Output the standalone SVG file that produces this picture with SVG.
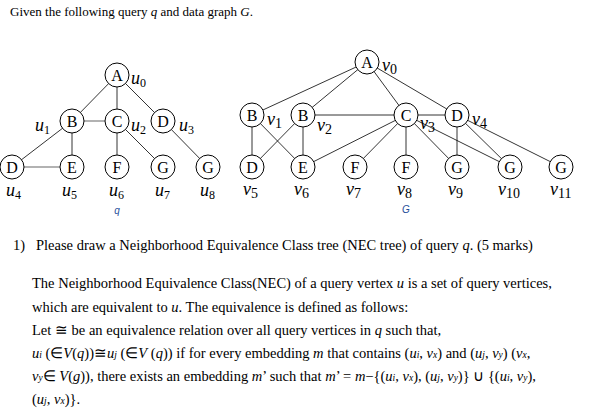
<svg xmlns="http://www.w3.org/2000/svg" width="601" height="420" viewBox="0 0 601 420">
<style>
text{font-family:"Liberation Serif","Times New Roman",serif;fill:#000}
.n circle{fill:#fff;stroke:#000;stroke-width:1}
.n text{font-size:16px;text-anchor:middle}
.l{font-size:18px;font-style:italic}
.e line{stroke:#000;stroke-width:0.8}
.g{stroke:#999!important;stroke-width:1.5!important}
.t{font-size:14.5px}
.i{font-style:italic}
.s{font-size:9.5px;font-style:italic}
.cap{font-family:"Liberation Sans",Arial,sans-serif;font-size:10px;font-style:italic;fill:#1f4e9a;text-anchor:middle}
</style>
<text x="10" y="16" font-size="13">Given the following query <tspan class="i">q</tspan> and data graph <tspan class="i">G</tspan>.</text>
<g class="e" id="edges-q">
<line x1="117" y1="75" x2="72" y2="121"/><line x1="117" y1="75" x2="117" y2="121"/><line x1="117" y1="75" x2="163" y2="121"/>
<line x1="72" y1="121" x2="117" y2="121" class="g"/>
<line x1="72" y1="121" x2="12" y2="167"/><line x1="72" y1="121" x2="72" y2="167"/>
<line x1="12" y1="167" x2="72" y2="167" class="g"/>
<line x1="117" y1="121" x2="117" y2="167"/><line x1="117" y1="121" x2="163" y2="167"/>
<line x1="163" y1="121" x2="208" y2="167"/>
</g>
<g class="n" id="u0"><circle cx="117" cy="75" r="12"/><text x="117" y="81">A</text></g>
<g class="n" id="u1"><circle cx="72" cy="121" r="12"/><text x="72" y="127">B</text></g>
<g class="n" id="u2"><circle cx="117" cy="121" r="12"/><text x="117" y="127">C</text></g>
<g class="n" id="u3"><circle cx="163" cy="121" r="12"/><text x="163" y="127">D</text></g>
<g class="n" id="u4"><circle cx="12" cy="167" r="12"/><text x="12" y="173">D</text></g>
<g class="n" id="u5"><circle cx="72" cy="167" r="12"/><text x="72" y="173">E</text></g>
<g class="n" id="u6"><circle cx="117" cy="167" r="12"/><text x="117" y="173">F</text></g>
<g class="n" id="u7"><circle cx="163" cy="167" r="12"/><text x="163" y="173">G</text></g>
<g class="n" id="u8"><circle cx="208" cy="167" r="12"/><text x="208" y="173">G</text></g>
<g id="qlabels" class="l">
<text x="131" y="84">u<tspan font-size="12" font-style="normal" dy="3">0</tspan></text>
<text x="35" y="131">u<tspan font-size="12" font-style="normal" dy="3">1</tspan></text>
<text x="131" y="131">u<tspan font-size="12" font-style="normal" dy="3">2</tspan></text>
<text x="179" y="131">u<tspan font-size="12" font-style="normal" dy="3">3</tspan></text>
<text x="6" y="196">u<tspan font-size="12" font-style="normal" dy="3">4</tspan></text>
<text x="62" y="196">u<tspan font-size="12" font-style="normal" dy="3">5</tspan></text>
<text x="109" y="196">u<tspan font-size="12" font-style="normal" dy="3">6</tspan></text>
<text x="155" y="196">u<tspan font-size="12" font-style="normal" dy="3">7</tspan></text>
<text x="200" y="196">u<tspan font-size="12" font-style="normal" dy="3">8</tspan></text>
</g>
<text x="117" y="214" class="cap">q</text>
<g class="e" id="edges-g">
<line x1="367" y1="62" x2="252" y2="115"/><line x1="367" y1="62" x2="303" y2="115"/><line x1="367" y1="62" x2="406" y2="115"/><line x1="367" y1="62" x2="457" y2="115"/>
<line x1="303" y1="115" x2="406" y2="115"/><line x1="406" y1="115" x2="457" y2="115"/>
<line x1="252" y1="115" x2="252" y2="167"/><line x1="252" y1="115" x2="303" y2="167"/>
<line x1="303" y1="115" x2="252" y2="167"/><line x1="303" y1="115" x2="303" y2="167"/>
<line x1="406" y1="115" x2="303" y2="167"/><line x1="406" y1="115" x2="355" y2="167"/><line x1="406" y1="115" x2="406" y2="167"/><line x1="406" y1="115" x2="457" y2="167"/><line x1="406" y1="115" x2="510" y2="167"/>
<line x1="457" y1="115" x2="457" y2="167"/><line x1="457" y1="115" x2="510" y2="167"/><line x1="457" y1="115" x2="561" y2="167"/>
</g>
<g class="n" id="v0"><circle cx="367" cy="62" r="12"/><text x="367" y="68">A</text></g>
<g class="n" id="v1"><circle cx="252" cy="115" r="12"/><text x="252" y="121">B</text></g>
<g class="n" id="v2"><circle cx="303" cy="115" r="12"/><text x="303" y="121">B</text></g>
<g class="n" id="v3"><circle cx="406" cy="115" r="12"/><text x="406" y="121">C</text></g>
<g class="n" id="v4"><circle cx="457" cy="115" r="12"/><text x="457" y="121">D</text></g>
<g class="n" id="v5"><circle cx="252" cy="167" r="12"/><text x="252" y="173">D</text></g>
<g class="n" id="v6"><circle cx="303" cy="167" r="12"/><text x="303" y="173">E</text></g>
<g class="n" id="v7"><circle cx="355" cy="167" r="12"/><text x="355" y="173">F</text></g>
<g class="n" id="v8"><circle cx="406" cy="167" r="12"/><text x="406" y="173">F</text></g>
<g class="n" id="v9"><circle cx="457" cy="167" r="12"/><text x="457" y="173">G</text></g>
<g class="n" id="v10"><circle cx="510" cy="167" r="12"/><text x="510" y="173">G</text></g>
<g class="n" id="v11"><circle cx="561" cy="167" r="12"/><text x="561" y="173">G</text></g>
<g id="glabels" class="l">
<text x="382" y="71">v<tspan font-size="14" font-style="normal" dy="3">0</tspan></text>
<text x="267" y="125">v<tspan font-size="14" font-style="normal" dy="3">1</tspan></text>
<text x="317" y="131">v<tspan font-size="14" font-style="normal" dy="3">2</tspan></text>
<text x="420" y="129">v<tspan font-size="14" font-style="normal" dy="3">3</tspan></text>
<text x="472" y="125">v<tspan font-size="14" font-style="normal" dy="3">4</tspan></text>
<text x="243" y="195">v<tspan font-size="14" font-style="normal" dy="3">5</tspan></text>
<text x="294" y="195">v<tspan font-size="14" font-style="normal" dy="3">6</tspan></text>
<text x="346" y="195">v<tspan font-size="14" font-style="normal" dy="3">7</tspan></text>
<text x="397" y="195">v<tspan font-size="14" font-style="normal" dy="3">8</tspan></text>
<text x="448" y="195">v<tspan font-size="14" font-style="normal" dy="3">9</tspan></text>
<text x="498" y="195">v<tspan font-size="14" font-style="normal" dy="3">10</tspan></text>
<text x="550" y="195">v<tspan font-size="14" font-style="normal" dy="3">11</tspan></text>
</g>
<text x="406" y="213" class="cap">G</text>
<g class="t">
<text x="13" y="250">1)</text>
<text x="36" y="250">Please draw a Neighborhood Equivalence Class tree (NEC tree) of query <tspan class="i">q</tspan>. (5 marks)</text>
<text x="32" y="288">The Neighborhood Equivalence Class(NEC) of a query vertex <tspan class="i">u</tspan> is a set of query vertices,</text>
<text x="32" y="312">which are equivalent to <tspan class="i">u</tspan>. The equivalence is defined as follows:</text>
<text x="32" y="335">Let ≅ be an equivalence relation over all query vertices in <tspan class="i">q</tspan> such that,</text>
<text x="32" y="358"><tspan class="i">u</tspan><tspan class="s">i</tspan> (∈<tspan class="i">V</tspan>(<tspan class="i">q</tspan>))≅<tspan class="i">u</tspan><tspan class="s">j</tspan> (∈<tspan class="i">V</tspan> (<tspan class="i">q</tspan>)) if for every embedding <tspan class="i">m</tspan> that contains (<tspan class="i">u</tspan><tspan class="s">i</tspan>, <tspan class="i">v</tspan><tspan class="s">x</tspan>) and (<tspan class="i">u</tspan><tspan class="s">j</tspan>, <tspan class="i">v</tspan><tspan class="s">y</tspan>) (<tspan class="i">v</tspan><tspan class="s">x</tspan>,</text>
<text x="32" y="381"><tspan class="i">v</tspan><tspan class="s">y</tspan>∈  <tspan class="i">V</tspan>(<tspan class="i">g</tspan>)), there exists an embedding <tspan class="i">m</tspan>’ such that <tspan class="i">m</tspan>’ = <tspan class="i">m</tspan>−{(<tspan class="i">u</tspan><tspan class="s">i</tspan>, <tspan class="i">v</tspan><tspan class="s">x</tspan>), (<tspan class="i">u</tspan><tspan class="s">j</tspan>, <tspan class="i">v</tspan><tspan class="s">y</tspan>)} ∪ {(<tspan class="i">u</tspan><tspan class="s">i</tspan>, <tspan class="i">v</tspan><tspan class="s">y</tspan>),</text>
<text x="32" y="404">(<tspan class="i">u</tspan><tspan class="s">j</tspan>, <tspan class="i">v</tspan><tspan class="s">x</tspan>)}.</text>
</g>
</svg>
